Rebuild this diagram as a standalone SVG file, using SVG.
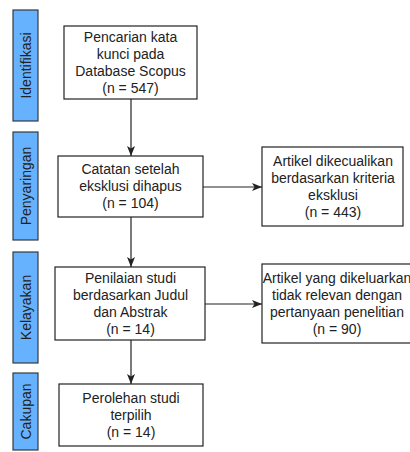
<svg xmlns="http://www.w3.org/2000/svg" width="410" height="452" viewBox="0 0 410 452">
<style>
.phase{fill:#66b2ff;stroke:#36393d;stroke-width:1.2}
.box{fill:#ffffff;stroke:#222;stroke-width:1.2}
.t{font-family:"Liberation Sans",Arial,sans-serif;font-size:14px;fill:#222;text-anchor:middle}
.pl{font-family:"Liberation Sans",Arial,sans-serif;font-size:14px;fill:#222;text-anchor:middle;dominant-baseline:central}
.edge{fill:none;stroke:#222;stroke-width:1.2}
</style>
<defs>
<marker id="arr" markerUnits="userSpaceOnUse" markerWidth="12" markerHeight="10" viewBox="0 0 12 10" refX="11" refY="5" orient="auto">
<path d="M1,1 L11,5 L1,9 L3.5,5 Z" fill="#222"/>
</marker>
</defs>
<rect width="410" height="452" fill="#ffffff"/>
<g id="phase-identifikasi">
<rect class="phase" x="13" y="10" width="25" height="111"/>
<text class="pl" transform="translate(25.5,65.5) rotate(-90)">Identifikasi</text>
</g>
<g id="phase-penyaringan">
<rect class="phase" x="13" y="132" width="25" height="108"/>
<text class="pl" transform="translate(25.5,186) rotate(-90)">Penyaringan</text>
</g>
<g id="phase-kelayakan">
<rect class="phase" x="13" y="252" width="25" height="111"/>
<text class="pl" transform="translate(25.5,307.5) rotate(-90)">Kelayakan</text>
</g>
<g id="phase-cakupan">
<rect class="phase" x="13" y="373" width="25" height="77"/>
<text class="pl" transform="translate(25.5,411.5) rotate(-90)">Cakupan</text>
</g>
<g id="connectors">
<path class="edge" d="M131,99 L131,156" marker-end="url(#arr)"/>
<path class="edge" d="M131,217 L131,267" marker-end="url(#arr)"/>
<path class="edge" d="M131,340 L131,384" marker-end="url(#arr)"/>
<path class="edge" d="M203,187 L262,187" marker-end="url(#arr)"/>
<path class="edge" d="M205,304 L262,304" marker-end="url(#arr)"/>
</g>
<g id="n-search">
<rect class="box" x="64" y="26" width="133" height="73"/>
<text class="t" x="130.5" y="42">Pencarian kata</text>
<text class="t" x="130.5" y="59">kunci pada</text>
<text class="t" x="130.5" y="76">Database Scopus</text>
<text class="t" x="130.5" y="93">(n = 547)</text>
</g>
<g id="n-screened">
<rect class="box" x="58" y="156" width="145" height="61"/>
<text class="t" x="130.5" y="174">Catatan setelah</text>
<text class="t" x="130.5" y="191">eksklusi dihapus</text>
<text class="t" x="130.5" y="208">(n = 104)</text>
</g>
<g id="n-excluded">
<rect class="box" x="262" y="147" width="141" height="79"/>
<text class="t" x="333" y="166">Artikel dikecualikan</text>
<text class="t" x="333" y="183">berdasarkan kriteria</text>
<text class="t" x="333" y="200">eksklusi</text>
<text class="t" x="333" y="217">(n = 443)</text>
</g>
<g id="n-eligibility">
<rect class="box" x="55" y="267" width="150" height="73"/>
<text class="t" x="130.5" y="283">Penilaian studi</text>
<text class="t" x="130.5" y="300">berdasarkan Judul</text>
<text class="t" x="130.5" y="317">dan Abstrak</text>
<text class="t" x="130.5" y="334">(n = 14)</text>
</g>
<g id="n-irrelevant">
<rect class="box" x="262" y="264" width="151" height="79"/>
<text class="t" x="337" y="283">Artikel yang dikeluarkan</text>
<text class="t" x="337" y="300">tidak relevan dengan</text>
<text class="t" x="337" y="317">pertanyaan penelitian</text>
<text class="t" x="337" y="334">(n = 90)</text>
</g>
<g id="n-included">
<rect class="box" x="59" y="384" width="144" height="62"/>
<text class="t" x="131" y="403">Perolehan studi</text>
<text class="t" x="131" y="420">terpilih</text>
<text class="t" x="131" y="437">(n = 14)</text>
</g>
</svg>
